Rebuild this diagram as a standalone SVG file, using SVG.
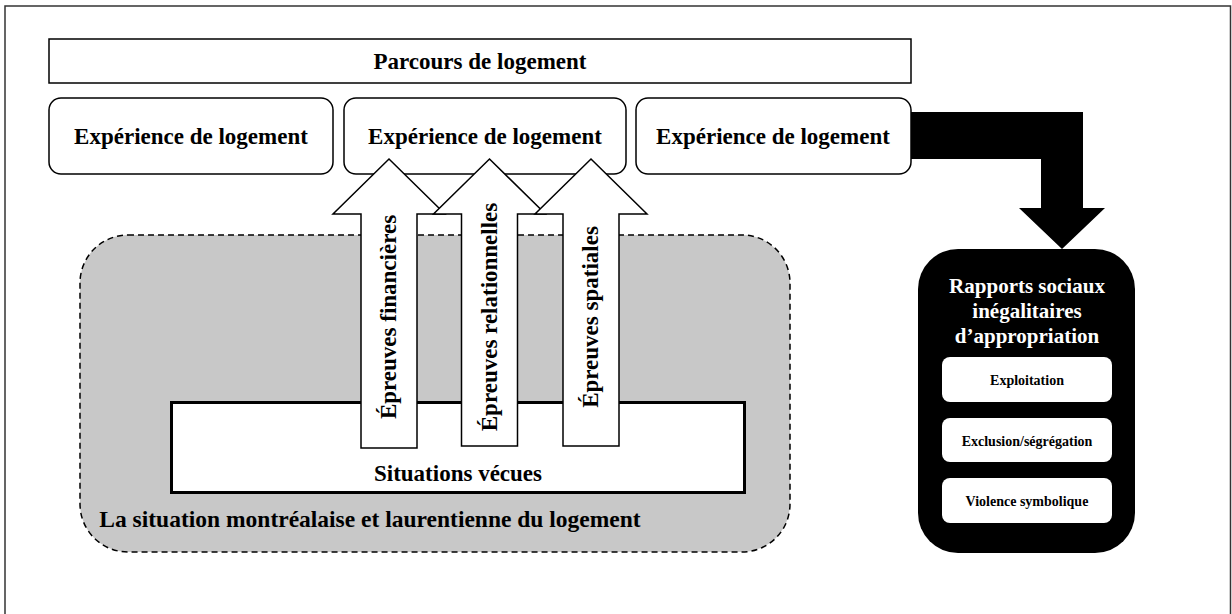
<svg xmlns="http://www.w3.org/2000/svg" width="1232" height="614" viewBox="0 0 1232 614">
<style>
.t{font-family:"Liberation Serif","Times New Roman",serif;font-weight:bold;font-size:23px;fill:#000;text-anchor:middle}
.w{fill:#fff;font-size:21px}
.s{font-size:14px}
.box{fill:#fff;stroke:#000;stroke-width:1.5}
.arr{fill:#fff;stroke:#000;stroke-width:1.5;stroke-linejoin:miter}
</style>
<rect x="5" y="6" width="1225.5" height="620" fill="#fff" stroke="#333" stroke-width="1.5"/>
<g id="situation-context">
<rect x="80" y="235" width="710" height="317" rx="48" fill="#c8c8c8" stroke="#000" stroke-width="1.5" stroke-dasharray="6 4"/>
<text class="t" x="370" y="527" style="font-size:23.5px">La situation montréalaise et laurentienne du logement</text>
</g>
<g id="situations-vecues">
<rect x="171.5" y="402.5" width="573" height="90" fill="#fff" stroke="#000" stroke-width="3"/>
<text class="t" x="458" y="481">Situations vécues</text>
</g>
<g id="parcours">
<rect class="box" x="49" y="39" width="862" height="44"/>
<text class="t" x="480" y="69">Parcours de logement</text>
</g>
<g id="experience1">
<rect class="box" x="49" y="98" width="284" height="76" rx="12"/>
<text class="t" x="191" y="144">Expérience de logement</text>
</g>
<g id="experience2">
<rect class="box" x="344" y="98" width="282" height="76" rx="12"/>
<text class="t" x="485" y="144">Expérience de logement</text>
</g>
<g id="connectors">
<polygon points="900,112 1083,112 1083,208 1105,208 1062,249 1019,208 1041,208 1041,159 900,159" fill="#000"/>
</g>
<g id="experience3">
<rect class="box" x="636" y="98" width="275" height="76" rx="12"/>
<text class="t" x="773" y="144">Expérience de logement</text>
</g>
<g id="epreuves-financieres">
<polygon class="arr" points="389,159 445,214 417,214 417,448 361,448 361,214 333,214"/>
<text class="t" transform="translate(396,317) rotate(-90)">Épreuves financières</text>
</g>
<g id="epreuves-relationnelles">
<polygon class="arr" points="489.5,159 545.5,214 517.5,214 517.5,446 461.5,446 461.5,214 433.5,214"/>
<text class="t" transform="translate(497,317) rotate(-90)">Épreuves relationnelles</text>
</g>
<g id="epreuves-spatiales">
<polygon class="arr" points="591,159 647,214 619,214 619,446 563,446 563,214 535,214"/>
<text class="t" transform="translate(598,317) rotate(-90)">Épreuves spatiales</text>
</g>
<g id="rapports-sociaux">
<rect x="918" y="249" width="217" height="304" rx="40" fill="#000"/>
<text class="t w" x="1027" y="293">Rapports sociaux</text>
<text class="t w" x="1027" y="318">inégalitaires</text>
<text class="t w" x="1027" y="343">d’appropriation</text>
<rect x="942" y="357" width="170" height="45" rx="8" fill="#fff"/>
<text class="t s" x="1027" y="385">Exploitation</text>
<rect x="942" y="418" width="170" height="44" rx="8" fill="#fff"/>
<text class="t s" x="1027" y="446">Exclusion/ségrégation</text>
<rect x="942" y="478" width="170" height="45" rx="8" fill="#fff"/>
<text class="t s" x="1027" y="506">Violence symbolique</text>
</g>
</svg>
